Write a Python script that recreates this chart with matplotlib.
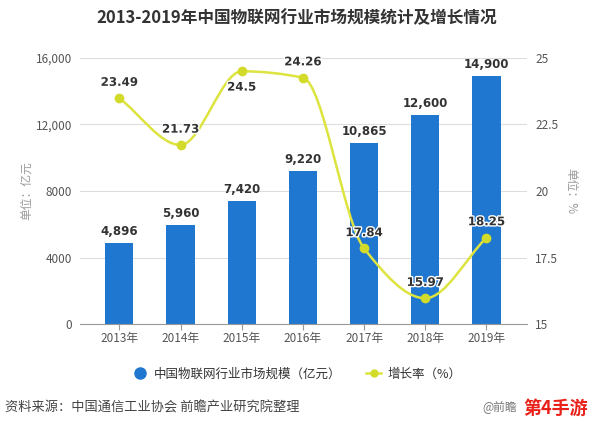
import numpy as np
import matplotlib
matplotlib.use('Agg')
import matplotlib.pyplot as plt
import matplotlib.patheffects as pe
from matplotlib.path import Path
from matplotlib.patches import PathPatch
from matplotlib.lines import Line2D

plt.rcParams['font.family'] = ['Noto Sans CJK SC', 'DejaVu Sans']

# 数据
years = ['2013年', '2014年', '2015年', '2016年', '2017年', '2018年', '2019年']
scale = [4896, 5960, 7420, 9220, 10865, 12600, 14900]
scale_labels = ['4,896', '5,960', '7,420', '9,220', '10,865', '12,600', '14,900']
growth = [23.49, 21.73, 24.5, 24.26, 17.84, 15.97, 18.25]
growth_labels = ['23.49', '21.73', '24.5', '24.26', '17.84', '15.97', '18.25']
left_ticks = [0, 4000, 8000, 12000, 16000]
left_ticklabels = ['0', '4000', '8000', '12,000', '16,000']
right_ticks = [15, 17.5, 20, 22.5, 25]
right_ticklabels = ['15', '17.5', '20', '22.5', '25']

bar_color = '#1f77d0'
line_color = '#dde33f'
marker_color = '#d3db2a'
gray = '#555555'

fig = plt.figure(figsize=(5.94, 4.25), dpi=100)
ax = fig.add_axes([0.135, 0.2376, 0.752, 0.626])
ax2 = ax.twinx()

x = np.arange(len(years))
ax.bar(x, scale, width=0.46, color=bar_color, zorder=2)
for xi, v, s in zip(x, scale, scale_labels):
    ax.text(xi, v + 300, s, ha='center', va='bottom', fontsize=8.5,
            fontweight='bold', color='#333333', family=['DejaVu Sans'])

ax.set_ylim(0, 16000)
ax.set_xlim(-0.64, 6.66)
ax.set_yticks(left_ticks)
ax.set_yticklabels(left_ticklabels)
ax.set_xticks(x)
ax.set_xticklabels(years)
ax.grid(axis='y', color='#dddddd', linewidth=0.8, zorder=0)
ax.set_axisbelow(True)
for sp in ['top', 'left', 'right']:
    ax.spines[sp].set_visible(False)
    ax2.spines[sp].set_visible(False)
ax.spines['bottom'].set_color('#999999')
ax2.spines['bottom'].set_visible(False)
ax.tick_params(axis='y', length=0, labelsize=8.5, labelcolor=gray, pad=6)
ax.tick_params(axis='x', length=4, color='#999999', labelsize=8.5, labelcolor=gray, pad=2)
ax.set_ylabel('单位：亿元', color='#999999', fontsize=8.5, labelpad=2)

# 增长率曲线 (单调三次曲线 -> Bezier)
ax2.set_ylim(15, 25)
ax2.set_yticks(right_ticks)
ax2.set_yticklabels(right_ticklabels)
ax2.tick_params(axis='y', length=0, labelsize=8.5, labelcolor=gray, pad=6)
ax2.set_ylabel('单位：%', color='#999999', fontsize=8.5, rotation=-90, labelpad=14)

g = np.array(growth, dtype=float)
d = np.diff(g)
m = np.zeros_like(g)
m[0], m[-1] = d[0], d[-1]
for i in range(1, len(g) - 1):
    if d[i - 1] * d[i] > 0:
        m[i] = 2 / (1 / d[i - 1] + 1 / d[i])
verts = [(x[0], g[0])]
codes = [Path.MOVETO]
for i in range(len(g) - 1):
    verts += [(x[i] + 1 / 3, g[i] + m[i] / 3),
              (x[i + 1] - 1 / 3, g[i + 1] - m[i + 1] / 3),
              (x[i + 1], g[i + 1])]
    codes += [Path.CURVE4] * 3
ax2.add_patch(PathPatch(Path(verts, codes), fill=False, edgecolor=line_color,
                        linewidth=1.8, zorder=3))
ax2.plot(x, growth, linestyle='none', marker='o', markersize=6,
         color=marker_color, zorder=4)
for xi, v, s in zip(x, growth, growth_labels):
    if s == '24.5':
        off, va = -0.35, 'top'
    else:
        off, va = 0.35, 'bottom'
    ax2.text(xi, v + off, s, ha='center', va=va, fontsize=8.5, fontweight='bold',
             color='#333333', family=['DejaVu Sans'], zorder=5,
             path_effects=[pe.withStroke(linewidth=2, foreground='white')])

fig.text(0.5, 0.958, '2013-2019年中国物联网行业市场规模统计及增长情况',
         ha='center', va='center', fontsize=12, fontweight='bold', color='#333333')

handles = [
    Line2D([], [], linestyle='none', marker='o', markersize=8, color=bar_color),
    Line2D([], [], color=line_color, linewidth=1.8, marker='o', markersize=5,
           markerfacecolor=marker_color, markeredgecolor=marker_color),
]
fig.legend(handles, ['中国物联网行业市场规模（亿元）', '增长率（%）'],
           loc='center', bbox_to_anchor=(0.5, 0.12), ncol=2, frameon=False,
           fontsize=9, handlelength=1.2, columnspacing=2.0, handletextpad=0.5)
for t in fig.legends[0].get_texts():
    t.set_color('#333333')

fig.text(0.008, 0.04, '资料来源：中国通信工业协会 前瞻产业研究院整理',
         ha='left', va='center', fontsize=9.5, color='#444444')
fig.text(0.812, 0.04, '@前瞻', ha='left', va='center', fontsize=8.5,
         color='#777777')
fig.text(0.99, 0.04, '第4手游', ha='right', va='center', fontsize=13,
         fontweight='bold', color='#e8221b')

fig.savefig('out.png', dpi=100)
